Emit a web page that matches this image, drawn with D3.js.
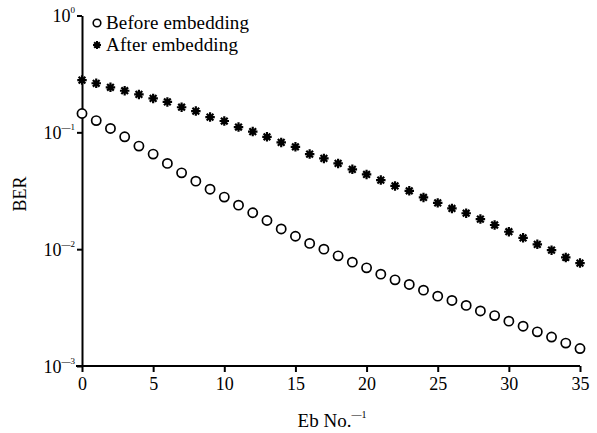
<!DOCTYPE html>
<html>
<head>
<meta charset="utf-8">
<script src="https://cdn.jsdelivr.net/npm/d3@7"></script>
<style>
  body { margin: 0; background: #fff; }
  svg text { font-family: "Liberation Serif", "Times New Roman", serif; fill: #000; }
</style>
</head>
<body>
<svg id="chart" width="597" height="433"></svg>
<script>
// Eb/No^-1 values
var ebNo = d3.range(0, 36);
// BER before embedding
var berBefore = [0.145, 0.126, 0.108, 0.0916, 0.0762, 0.0651, 0.0542, 0.0450, 0.0382, 0.0326,
  0.0279, 0.0238, 0.0205, 0.0176, 0.0149, 0.0129, 0.0112, 0.0100, 0.00877, 0.00774,
  0.00692, 0.00611, 0.00546, 0.00499, 0.00446, 0.00396, 0.00364, 0.00330, 0.00296, 0.00270,
  0.00242, 0.00219, 0.00196, 0.00177, 0.00157, 0.00141];
// BER after embedding
var berAfter = [0.280, 0.263, 0.243, 0.227, 0.211, 0.195, 0.182, 0.164, 0.152, 0.135,
  0.125, 0.111, 0.1015, 0.0916, 0.0820, 0.0752, 0.0651, 0.0598, 0.0542, 0.0482,
  0.0436, 0.0390, 0.0348, 0.0316, 0.0277, 0.0249, 0.0223, 0.0203, 0.0181, 0.0161,
  0.0141, 0.0125, 0.0110, 0.0098, 0.0085, 0.0076];
var xTicks = [0, 5, 10, 15, 20, 25, 30, 35];
var yTicks = [1, 0.1, 0.01, 0.001];
var yExps = ["0", "\u20141", "\u20142", "\u20143"];
var seriesNames = ["Before embedding", "After embedding"];

var svg = d3.select("#chart");

var x = d3.scaleLinear().domain([0, 35]).range([82, 580]);
var y = d3.scaleLog().domain([0.001, 1]).range([366, 15.5]);

// 8-armed asterisk marker
var asterisk = {
  draw: function (ctx, size) {
    var r = Math.sqrt(size) / 2, d = r * Math.SQRT1_2;
    ctx.moveTo(-r, 0); ctx.lineTo(r, 0);
    ctx.moveTo(0, -r); ctx.lineTo(0, r);
    ctx.moveTo(-d, -d); ctx.lineTo(d, d);
    ctx.moveTo(-d, d); ctx.lineTo(d, -d);
  }
};

// axes
var xAxis = svg.append("g")
  .attr("transform", "translate(0," + y(0.001) + ")")
  .call(d3.axisBottom(x).tickValues(xTicks).tickSize(6).tickSizeOuter(0).tickPadding(5));
xAxis.select(".domain").attr("stroke-width", 2).attr("d", "M76,0H" + x(35));
xAxis.selectAll(".tick line").attr("stroke-width", 2);
xAxis.selectAll(".tick text").attr("font-size", 18).style("font-family", "Liberation Serif");

var yAxis = svg.append("g")
  .attr("transform", "translate(" + x(0) + ",0)")
  .call(d3.axisLeft(y).tickValues(yTicks).tickSize(5).tickSizeOuter(0).tickFormat(""));
yAxis.select(".domain").attr("stroke-width", 2);
yAxis.selectAll(".tick line").attr("stroke-width", 2);

yAxis.selectAll(".tick").each(function (d, i) {
  var t = d3.select(this).append("text")
    .attr("x", -7)
    .attr("y", 6)
    .attr("text-anchor", "end")
    .attr("font-size", 18)
    .style("font-family", "Liberation Serif")
    .attr("fill", "#000");
  t.append("tspan").text("10");
  t.append("tspan").attr("dy", -9).attr("font-size", 9).text(yExps[i]);
});

// axis titles
svg.append("text")
  .attr("transform", "translate(26," + 194 + ") rotate(-90)")
  .attr("text-anchor", "middle")
  .attr("font-size", 18)
  .text("BER");

var xt = svg.append("text")
  .attr("x", 332)
  .attr("y", 427)
  .attr("text-anchor", "middle")
  .attr("font-size", 19);
xt.append("tspan").text("Eb No.");
xt.append("tspan").attr("dy", -9).attr("font-size", 10).text("\u20141");

// series
svg.append("g").selectAll("circle")
  .data(ebNo)
  .join("circle")
  .attr("cx", function (d) { return x(d); })
  .attr("cy", function (d, i) { return y(berBefore[i]); })
  .attr("r", 4.6)
  .attr("fill", "#fff")
  .attr("stroke", "#000")
  .attr("stroke-width", 1.7);

svg.append("g").selectAll("path")
  .data(ebNo)
  .join("path")
  .attr("transform", function (d, i) { return "translate(" + x(d) + "," + y(berAfter[i]) + ")"; })
  .attr("d", d3.symbol(asterisk, 90))
  .attr("stroke", "#000")
  .attr("stroke-width", 2.2);

// legend
var legend = svg.append("g");
legend.append("circle")
  .attr("cx", 97).attr("cy", 23).attr("r", 3.8)
  .attr("fill", "#fff").attr("stroke", "#000").attr("stroke-width", 1.6);
legend.append("path")
  .attr("transform", "translate(97,45)")
  .attr("d", d3.symbol(asterisk, 64))
  .attr("stroke", "#000").attr("stroke-width", 2);
legend.selectAll("text")
  .data(seriesNames)
  .join("text")
  .attr("x", 106)
  .attr("y", function (d, i) { return 29 + i * 22; })
  .attr("font-size", 19)
  .attr("textLength", function (d, i) { return i === 0 ? 143 : 132; })
  .text(function (d) { return d; });
</script>
</body>
</html>
